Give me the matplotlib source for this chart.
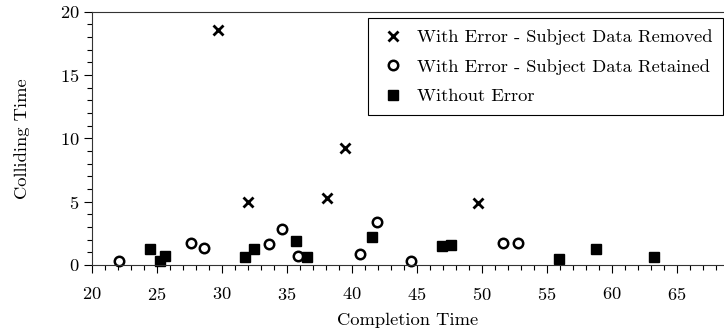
import matplotlib
matplotlib.use("Agg")
import matplotlib.pyplot as plt
from matplotlib.ticker import MultipleLocator

plt.rcParams["font.family"] = ["cmr10", "DejaVu Serif"]
plt.rcParams["mathtext.fontset"] = "cm"
plt.rcParams["axes.formatter.use_mathtext"] = True

# with error, subject data removed
rem_x = [29.74, 32.0, 38.12, 39.43, 49.72]
rem_y = [18.55, 4.95, 5.31, 9.26, 4.87]
# with error, subject data retained
ret_x = [22.12, 27.6, 28.64, 33.6, 34.64, 35.87, 40.6, 41.95, 44.56, 51.64, 52.8]
ret_y = [0.32, 1.71, 1.37, 1.63, 2.82, 0.71, 0.84, 3.42, 0.32, 1.74, 1.74]
# without error
ok_x = [24.5, 25.25, 25.6, 31.8, 32.46, 35.69, 36.51, 41.56, 46.95, 47.6, 55.9, 58.74, 63.23]
ok_y = [1.29, 0.34, 0.71, 0.63, 1.29, 1.89, 0.66, 2.24, 1.53, 1.58, 0.47, 1.26, 0.66]

fs = 13.3
fig = plt.figure(figsize=(7.24, 3.31), dpi=100)
ax = fig.add_axes([0.1267, 0.1994, 0.8733, 0.7653])

ax.plot(rem_x, rem_y, ls="none", marker="x", ms=6.5, mew=2, color="black",
        label="With Error - Subject Data Removed", clip_on=False)
ax.plot(ret_x, ret_y, ls="none", marker="o", ms=6.8, mew=1.8, mfc="white", mec="black",
        label="With Error - Subject Data Retained", clip_on=False)
ax.plot(ok_x, ok_y, ls="none", marker="s", ms=6.8, color="black",
        label="Without Error", clip_on=False)

ax.set_xlim(20, 68.6)
ax.set_ylim(0, 20)
ax.xaxis.set_major_locator(MultipleLocator(5))
ax.xaxis.set_minor_locator(MultipleLocator(1))
ax.yaxis.set_major_locator(MultipleLocator(5))
ax.yaxis.set_minor_locator(MultipleLocator(1))
ax.tick_params(which="major", direction="out", length=5.8, width=0.8, labelsize=fs)
ax.tick_params(which="minor", direction="out", length=3.6, width=0.8)
ax.tick_params(axis="x", which="major", pad=9)
ax.tick_params(axis="y", which="major", pad=3)
ax.spines["right"].set_visible(False)
for s in ["top", "left", "bottom"]:
    ax.spines[s].set_linewidth(0.8)
    ax.spines[s].set_color("#333333")

ax.set_xlabel("Completion Time", fontsize=fs, labelpad=7.5)
ax.set_ylabel("Colliding Time", fontsize=fs, labelpad=21.5)

leg = ax.legend(loc="upper right", bbox_to_anchor=(0.999, 0.974), fontsize=fs,
                frameon=True, fancybox=False, edgecolor="black", framealpha=1,
                handletextpad=0.56, borderpad=0.6, labelspacing=0.73,
                handlelength=1.5, borderaxespad=0)
leg.get_frame().set_linewidth(0.8)

fig.savefig("out.png", dpi=100)
